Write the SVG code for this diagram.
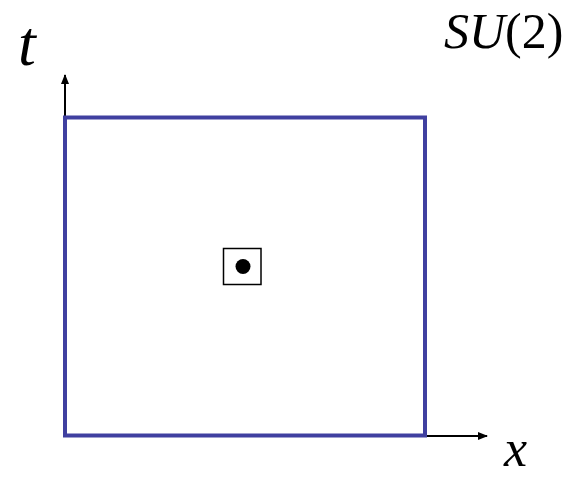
<svg xmlns="http://www.w3.org/2000/svg" width="582" height="478" viewBox="0 0 582 478">
<style>
.lbl{font-family:"Liberation Serif","Times New Roman",serif;fill:#000}
.it{font-style:italic}
.ax{stroke:#000;stroke-width:2;fill:none}
</style>
<defs>
<marker id="ah" markerWidth="10" markerHeight="8" refX="9" refY="4" orient="auto" markerUnits="userSpaceOnUse">
<path d="M0,0 L10,4 L0,8 Z" fill="#000"/>
</marker>
</defs>
<rect width="582" height="478" fill="#fff"/>
<g id="connectors">
<line class="ax" x1="65" y1="436" x2="65" y2="75" marker-end="url(#ah)"/>
<line class="ax" x1="65" y1="436" x2="487" y2="436" marker-end="url(#ah)"/>
</g>
<g id="region">
<rect x="65" y="117.5" width="360" height="318" fill="none" stroke="#4040a0" stroke-width="4"/>
</g>
<g id="plaquette">
<rect x="223.5" y="248.5" width="37.5" height="36" fill="none" stroke="#000" stroke-width="1.5"/>
<circle cx="243" cy="266.5" r="7.5" fill="#000"/>
</g>
<g id="label-t"><text class="lbl it" x="18" y="65" font-size="64">t</text></g>
<g id="label-x"><text class="lbl it" x="504" y="466" font-size="52">x</text></g>
<g id="label-su2"><text class="lbl" x="444" y="48" font-size="50"><tspan class="it">SU</tspan>(2)</text></g>
</svg>
